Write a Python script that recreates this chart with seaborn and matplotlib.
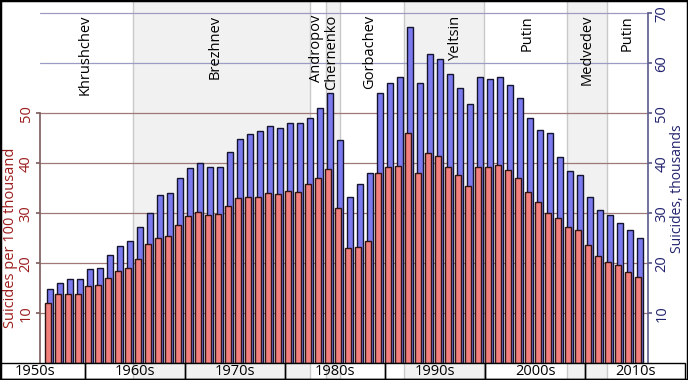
import numpy as np
import pandas as pd
import matplotlib
matplotlib.use("Agg")
import matplotlib.pyplot as plt
from matplotlib.patches import Rectangle
import seaborn as sns

# data
years = list(range(1956, 2016))
rate = [12.1, 13.8, 13.9, 13.8, 15.4, 15.6, 17.0, 18.5, 19.0, 20.9,
        23.8, 25.0, 25.4, 27.7, 29.4, 30.2, 29.7, 29.9, 31.5, 33.0,
        33.2, 33.3, 34.0, 33.9, 34.5, 34.3, 35.8, 37.0, 38.8, 31.1,
        23.1, 23.3, 24.5, 38.0, 39.2, 39.5, 46.1, 38.1, 42.1, 41.5,
        39.3, 37.7, 35.4, 39.3, 39.3, 39.7, 38.6, 37.0, 34.3, 32.2,
        30.1, 29.1, 27.2, 26.6, 23.6, 21.5, 20.3, 19.6, 18.3, 17.2]
deaths = [14.8, 16.0, 16.8, 16.9, 18.8, 19.0, 21.7, 23.4, 24.4, 27.2,
          30.1, 33.6, 34.1, 37.0, 39.0, 40.0, 39.2, 39.3, 42.2, 44.8,
          45.9, 46.4, 47.5, 47.1, 48.1, 48.0, 49.0, 51.1, 54.0, 44.6,
          33.3, 35.8, 38.0, 54.0, 56.0, 57.2, 67.3, 56.1, 61.9, 60.9,
          57.8, 55.0, 51.8, 57.3, 56.9, 57.3, 55.7, 53.1, 49.0, 46.6,
          46.1, 41.3, 38.4, 37.6, 33.2, 30.7, 29.7, 28.1, 26.6, 25.1]

decades = [1950, 1960, 1970, 1980, 1990, 2000, 2010]
leaders = ["Khrushchev", "Brezhnev", "Andropov", "Chernenko", "Gorbachev",
           "Yeltsin", "Putin", "Medvedev", "Putin"]
# shaded terms (start, end) in fractional years
shaded = [(1964.8, 1982.5), (1984.1, 1985.5), (1991.9, 1999.9), (2008.2, 2012.2)]

df = pd.DataFrame({"year": years, "rate": rate, "deaths": deaths})

red_txt = "#9b1c1c"
blue_txt = "#22226e"

sns.set_theme(style="white")
plt.rcParams["font.family"] = ["Open Sans", "DejaVu Sans"]

W, H = 688, 380
fig = plt.figure(figsize=(W / 100, H / 100), dpi=100)

# pixel helpers: x px -> year, bottom of plot at y=363.3, 5 px per unit
x0 = 1960 - 85 / 10
x1 = x0 + W / 10
y_bot = 363.3
ax = fig.add_axes([40 / W, (H - y_bot) / H, 608 / W, y_bot / H])
ax.set_ylim(0, y_bot / 5)

# leader terms
for a, b in shaded:
    ax.axvspan(a, b, color="#f1f1f1", zorder=0, lw=0)
    for e in (a, b):
        ax.axvline(e, color="#c9c9c9", lw=1, zorder=0.5)

# gridlines
for v in [60, 70]:
    ax.axhline(v, color="#9b9bc4", lw=0.9, zorder=1)
for v in [10, 20, 30, 40, 50]:
    ax.axhline(v, color="#a07878", lw=0.9, zorder=1)

# bars: thousands behind, rate in front
sns.barplot(x=df["year"] + 0.5, y=df["deaths"], native_scale=True, width=0.62,
            color="#7b7bef", saturation=1, edgecolor="#141430", linewidth=1,
            errorbar=None, ax=ax, zorder=2)
sns.barplot(x=df["year"] + 0.3, y=df["rate"], native_scale=True, width=0.62,
            color="#f27f7c", saturation=1, edgecolor="#301414", linewidth=1,
            errorbar=None, ax=ax, zorder=3)
ax.set_xlim(x0 + 4.0, x0 + 64.8)
ax.set_xticks([])
ax.set_xlabel("")

# leader names
name_x = [1960.0, 1973.0, 1983.2, 1984.7, 1988.5, 1997.0, 2004.2, 2010.2, 2014.2]
for n, xp in zip(leaders, name_x):
    ax.text(xp, (y_bot - 15) / 5, n, rotation=90, ha="center", va="top",
            fontsize=10.5, color="black", zorder=5)

# left axis
ax.set_yticks([10, 20, 30, 40, 50])
ax.tick_params(axis="y", which="both", left=True, length=3, color="#806060",
               labelcolor=red_txt, labelsize=10.5, labelrotation=90, pad=1.5)
for lab in ax.get_yticklabels():
    lab.set_va("center")
ax.set_ylabel("Suicides per 100 thousand", color=red_txt, fontsize=10.5)
ax.yaxis.set_label_coords(-0.036, 0.345)
for s in ["top", "right", "bottom"]:
    ax.spines[s].set_visible(False)
ax.spines["left"].set_bounds(0, 50)
ax.spines["left"].set_color("#806060")

# right axis
ax2 = ax.twinx()
ax2.set_ylim(ax.get_ylim())
ax2.set_yticks([10, 20, 30, 40, 50, 60, 70])
ax2.tick_params(axis="y", right=True, length=3, color="#606090",
                labelcolor=blue_txt, labelsize=10.5, labelrotation=90, pad=1.5)
for lab in ax2.get_yticklabels():
    lab.set_va("center")
ax2.set_ylabel("Suicides, thousands", color=blue_txt, fontsize=10)
ax2.yaxis.set_label_coords(1.037, 0.48)
for s in ["top", "left", "bottom"]:
    ax2.spines[s].set_visible(False)
ax2.spines["right"].set_bounds(0, 70)
ax2.spines["right"].set_color("#606090")
ax2.grid(False)

# decade row
axd = fig.add_axes([0, 1 / H, 1, 16 / H])
axd.set_xlim(x0, x1)
axd.set_ylim(0, 1)
axd.axis("off")
for a, b in shaded:
    axd.axvspan(a, b, color="#f1f1f1", zorder=0, lw=0)
    for e in (a, b):
        axd.axvline(e, color="#c9c9c9", lw=1, zorder=0.5)
for d in decades:
    axd.add_patch(Rectangle((d, 0), 10, 1, fill=False, edgecolor="black",
                            lw=1, clip_on=False, zorder=2))
    axd.text(d + 5, 0.45, f"{d}s", ha="center", va="center", fontsize=10.5,
             color="black", zorder=3)

# outer frame
fig.add_artist(Rectangle((0, 0), 1, 1, transform=fig.transFigure, fill=False,
                         edgecolor="black", lw=2.5))

plt.savefig("out.png", dpi=100)
